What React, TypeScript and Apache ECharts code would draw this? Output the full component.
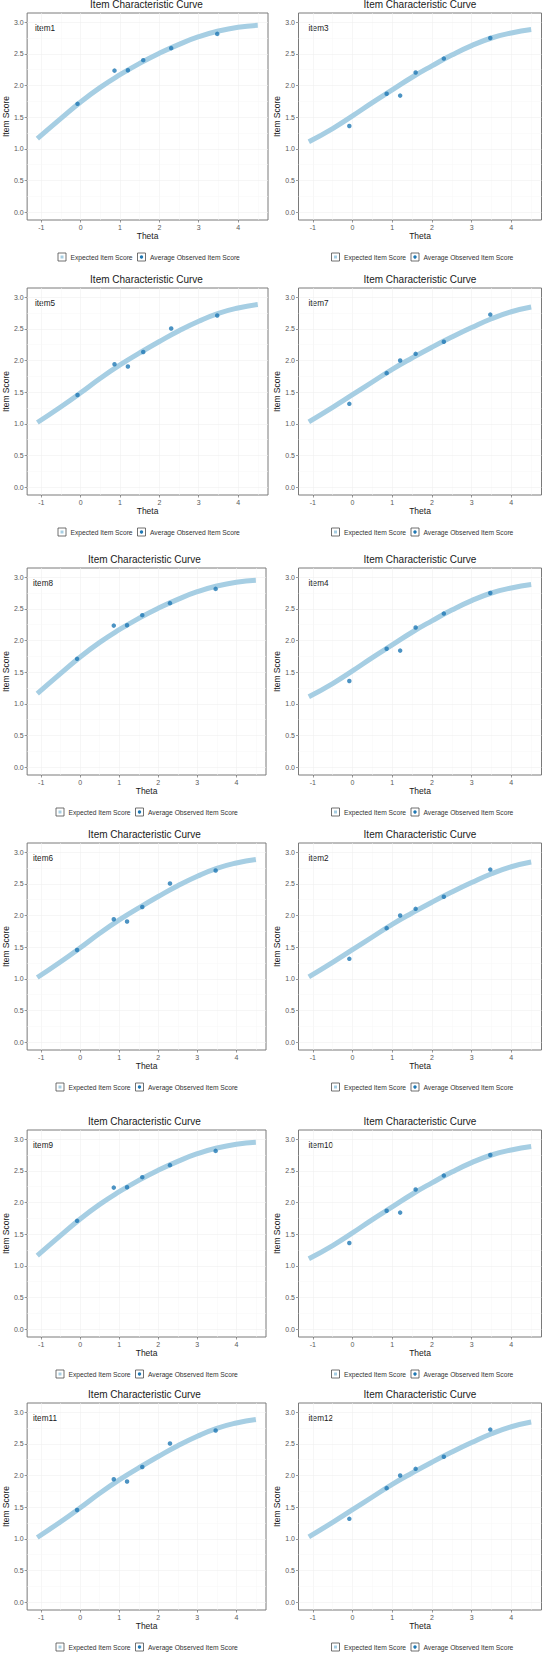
import React, { useEffect, useRef } from "react";
import * as echarts from "echarts";

const FONT = '"Liberation Sans", Arial, sans-serif';

const itemNames = ["item1", "item3", "item5", "item7", "item8", "item4", "item6", "item2", "item9", "item10", "item11", "item12"];

const thetaCurve = [-1.1, -0.5, 0, 0.5, 1, 1.5, 2, 2.5, 3, 3.5, 4, 4.5];
const thetaObs = [-0.08, 0.86, 1.2, 1.59, 2.3, 3.47];

const xTicks = [-1, 0, 1, 2, 3, 4];
const xMinorTicks = [-0.5, 0.5, 1.5, 2.5, 3.5, 4.5];
const yTicks = [0, 0.5, 1, 1.5, 2, 2.5, 3];
const yMinorTicks = [0.25, 0.75, 1.25, 1.75, 2.25, 2.75];

const expectedItem1 = [1.16, 1.48, 1.74, 1.97, 2.17, 2.35, 2.51, 2.65, 2.77, 2.86, 2.92, 2.95];
const observedItem1 = [1.71, 2.235, 2.24, 2.4, 2.59, 2.815];
const expectedItem3 = [1.11, 1.32, 1.52, 1.73, 1.93, 2.13, 2.31, 2.48, 2.63, 2.75, 2.83, 2.885];
const observedItem3 = [1.36, 1.87, 1.84, 2.205, 2.425, 2.75];
const expectedItem5 = [1.02, 1.27, 1.49, 1.72, 1.93, 2.12, 2.3, 2.47, 2.62, 2.745, 2.83, 2.885];
const observedItem5 = [1.455, 1.94, 1.905, 2.135, 2.505, 2.71];
const expectedItem7 = [1.03, 1.26, 1.46, 1.66, 1.86, 2.04, 2.21, 2.37, 2.52, 2.66, 2.77, 2.845];
const observedItem7 = [1.315, 1.8, 2.0, 2.105, 2.295, 2.725];
const expectedItem8 = [1.16, 1.48, 1.74, 1.97, 2.17, 2.35, 2.51, 2.65, 2.77, 2.86, 2.92, 2.95];
const observedItem8 = [1.71, 2.235, 2.24, 2.4, 2.59, 2.815];
const expectedItem4 = [1.11, 1.32, 1.52, 1.73, 1.93, 2.13, 2.31, 2.48, 2.63, 2.75, 2.83, 2.885];
const observedItem4 = [1.36, 1.87, 1.84, 2.205, 2.425, 2.75];
const expectedItem6 = [1.02, 1.27, 1.49, 1.72, 1.93, 2.12, 2.3, 2.47, 2.62, 2.745, 2.83, 2.885];
const observedItem6 = [1.455, 1.94, 1.905, 2.135, 2.505, 2.71];
const expectedItem2 = [1.03, 1.26, 1.46, 1.66, 1.86, 2.04, 2.21, 2.37, 2.52, 2.66, 2.77, 2.845];
const observedItem2 = [1.315, 1.8, 2.0, 2.105, 2.295, 2.725];
const expectedItem9 = [1.16, 1.48, 1.74, 1.97, 2.17, 2.35, 2.51, 2.65, 2.77, 2.86, 2.92, 2.95];
const observedItem9 = [1.71, 2.235, 2.24, 2.4, 2.59, 2.815];
const expectedItem10 = [1.11, 1.32, 1.52, 1.73, 1.93, 2.13, 2.31, 2.48, 2.63, 2.75, 2.83, 2.885];
const observedItem10 = [1.36, 1.87, 1.84, 2.205, 2.425, 2.75];
const expectedItem11 = [1.02, 1.27, 1.49, 1.72, 1.93, 2.12, 2.3, 2.47, 2.62, 2.745, 2.83, 2.885];
const observedItem11 = [1.455, 1.94, 1.905, 2.135, 2.505, 2.71];
const expectedItem12 = [1.03, 1.26, 1.46, 1.66, 1.86, 2.04, 2.21, 2.37, 2.52, 2.66, 2.77, 2.845];
const observedItem12 = [1.315, 1.8, 2.0, 2.105, 2.295, 2.725];

const expectedList = [expectedItem1, expectedItem3, expectedItem5, expectedItem7, expectedItem8, expectedItem4, expectedItem6, expectedItem2, expectedItem9, expectedItem10, expectedItem11, expectedItem12];
const observedList = [observedItem1, observedItem3, observedItem5, observedItem7, observedItem8, observedItem4, observedItem6, observedItem2, observedItem9, observedItem10, observedItem11, observedItem12];

const TITLE = "Item Characteristic Curve";
const LEGEND_EXPECTED = "Expected Item Score";
const LEGEND_OBSERVED = "Average Observed Item Score";

// layout
const rowTops = [13, 288, 568, 843, 1130, 1403];
const leftColLefts = [25, 25, 23, 23, 23, 23];
const rightColLeft = 298.5;
const BOX_W = 243;
const BOX_H = 207;

const CURVE_COLOR = "#a6cee3";
const POINT_COLOR = "#1f78b4";

function txt(x: number, y: number, text: string, size: number, fill: string, align = "left", vAlign = "middle") {
  return {
    type: "text",
    x,
    y,
    silent: true,
    style: {
      text,
      fill,
      fontSize: size,
      fontFamily: FONT,
      align,
      verticalAlign: vAlign,
      textAlign: align,
      textVerticalAlign: vAlign,
    },
  };
}

export default function App() {
  const ref = useRef<HTMLDivElement>(null);

  useEffect(() => {
    if (!ref.current) return;
    const chart = echarts.init(ref.current, undefined, { renderer: "svg" });

    const panels = itemNames.map((name, i) => {
      const row = Math.floor(i / 2);
      const col = i % 2;
      const left = col === 0 ? leftColLefts[row] : rightColLeft;
      const top = rowTops[row];
      return { name, left, top, expected: expectedList[i], observed: observedList[i] };
    });

    const grids = panels.map((p) => ({
      left: p.left,
      top: p.top,
      width: BOX_W,
      height: BOX_H,
      show: true,
      backgroundColor: "#ffffff",
      borderColor: "#7a7a7a",
      borderWidth: 1,
      containLabel: false,
    }));

    const xAxes = panels.map((p, i) => ({
      type: "value",
      gridIndex: i,
      min: -1.36,
      max: 4.76,
      name: "Theta",
      nameLocation: "middle",
      nameGap: 11.5,
      nameTextStyle: { fontSize: 8.5, color: "#1a1a1a", fontFamily: FONT },
      axisLine: { show: false, onZero: false },
      axisTick: { show: true, length: 2.5, lineStyle: { color: "#555", width: 0.6 }, customValues: xTicks },
      axisLabel: {
        customValues: xTicks,
        fontSize: 7,
        color: "#595959",
        margin: 4,
        fontFamily: FONT,
        formatter: (v: number) => (xTicks.indexOf(v) >= 0 ? String(v) : ""),
      },
      splitLine: { show: false },
    }));

    const yAxes = panels.map((p, i) => ({
      type: "value",
      gridIndex: i,
      min: -0.125,
      max: 3.145,
      name: "Item Score",
      nameLocation: "middle",
      nameRotate: 90,
      nameGap: 14.5,
      nameTextStyle: { fontSize: 8.5, color: "#1a1a1a", fontFamily: FONT },
      axisLine: { show: false, onZero: false },
      axisTick: { show: true, length: 2.5, lineStyle: { color: "#555", width: 0.6 }, customValues: yTicks },
      axisLabel: {
        customValues: yTicks,
        fontSize: 7,
        color: "#595959",
        margin: 3.5,
        fontFamily: FONT,
        formatter: (v: number) => (yTicks.indexOf(v) >= 0 ? v.toFixed(1) : ""),
      },
      splitLine: { show: false },
    }));

    const gridLineData = [
      ...xTicks.map((v) => ({ xAxis: v, lineStyle: { color: "#f0f0f0", width: 0.6, type: "solid" } })),
      ...xMinorTicks.map((v) => ({ xAxis: v, lineStyle: { color: "#f7f7f7", width: 0.5, type: "solid" } })),
      ...yTicks.map((v) => ({ yAxis: v, lineStyle: { color: "#f0f0f0", width: 0.6, type: "solid" } })),
      ...yMinorTicks.map((v) => ({ yAxis: v, lineStyle: { color: "#f7f7f7", width: 0.5, type: "solid" } })),
    ];

    const series: any[] = [];
    panels.forEach((p, i) => {
      series.push({
        type: "line",
        name: LEGEND_EXPECTED,
        xAxisIndex: i,
        yAxisIndex: i,
        data: thetaCurve.map((t, k) => [t, p.expected[k]]),
        smooth: 0.5,
        showSymbol: false,
        symbol: "none",
        lineStyle: { color: CURVE_COLOR, width: 5 },
        z: 2,
        silent: true,
        markLine: {
          silent: true,
          z: 1,
          symbol: ["none", "none"],
          label: { show: false },
          lineStyle: { type: "solid", color: "#f0f0f0", width: 0.6 },
          emphasis: { disabled: true },
          animation: false,
          data: gridLineData,
        },
      });
      series.push({
        type: "scatter",
        name: LEGEND_OBSERVED,
        xAxisIndex: i,
        yAxisIndex: i,
        data: thetaObs.map((t, k) => [t, p.observed[k]]),
        symbolSize: 4.5,
        itemStyle: { color: POINT_COLOR },
        z: 3,
        silent: true,
      });
    });

    const graphics: any[] = [];
    panels.forEach((p) => {
      const cx = p.left + BOX_W / 2;
      const bottom = p.top + BOX_H;
      graphics.push(txt(cx, p.top - 9, TITLE, 10, "#1a1a1a", "center"));
      graphics.push(txt(p.left + 10, p.top + 15.5, p.name, 8.2, "#1a1a1a", "left"));
      const ly = bottom + 37;
      graphics.push({
        type: "rect",
        silent: true,
        shape: { x: p.left + 33, y: ly - 4, width: 8, height: 8 },
        style: { fill: "#ffffff", stroke: "#4d4d4d", lineWidth: 0.8 },
      });
      graphics.push({
        type: "rect",
        silent: true,
        shape: { x: p.left + 35.5, y: ly - 1.5, width: 3, height: 3 },
        style: { fill: CURVE_COLOR },
      });
      graphics.push(txt(p.left + 45.5, ly, LEGEND_EXPECTED, 6.7, "#333333", "left"));
      graphics.push({
        type: "rect",
        silent: true,
        shape: { x: p.left + 112.5, y: ly - 4, width: 8, height: 8 },
        style: { fill: "#ffffff", stroke: "#4d4d4d", lineWidth: 0.8 },
      });
      graphics.push({
        type: "circle",
        silent: true,
        shape: { cx: p.left + 116.5, cy: ly, r: 1.7 },
        style: { fill: POINT_COLOR },
      });
      graphics.push(txt(p.left + 125, ly, LEGEND_OBSERVED, 6.7, "#333333", "left"));
    });

    chart.setOption({
      animation: false,
      backgroundColor: "#ffffff",
      textStyle: { fontFamily: FONT },
      grid: grids,
      xAxis: xAxes,
      yAxis: yAxes,
      series,
      graphic: graphics,
    });

    return () => {
      chart.dispose();
    };
  }, []);

  return (
    <div
      ref={ref}
      style={{ position: "absolute", left: 0, top: 0, width: 544, height: 1653, background: "#ffffff" }}
    />
  );
}
